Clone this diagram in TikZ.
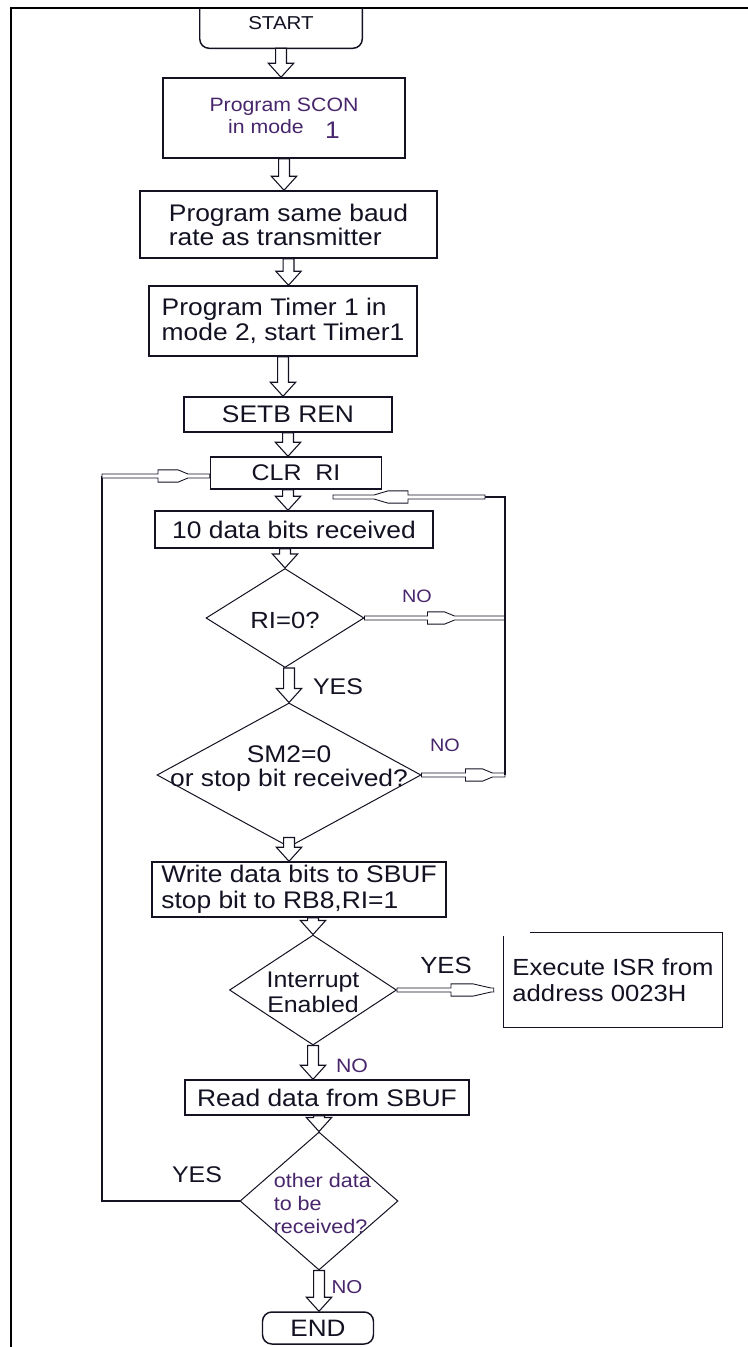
\documentclass[tikz,border=0pt]{standalone}
\usepackage{fontspec}
\setmainfont{Liberation Sans}[FakeStretch=1.1]
\usetikzlibrary{calc,shapes.geometric}

\definecolor{ink}{RGB}{18,18,34}
\definecolor{plum}{RGB}{72,38,108}

% font size / baseline skip in pt
\newcommand\fs[2]{\fontsize{#1pt}{#2pt}\selectfont}
% text block pinned at a node centre: #1 raise of the last baseline, #2 column type, #3 lines
\newcommand\pinned[3]{\makebox[0pt]{\smash{\raisebox{#1}{\begin{tabular}[b]{@{}#2@{}}#3\end{tabular}}}}}

% hollow block arrow (shaft + triangular head at the end)
\def\bs{4.1pt}\def\bh{9.5pt}\def\bl{10.5pt}
\newcommand\blockarrow[2]{%
  \draw[blockline] let \p1=(#1), \p2=(#2), \n1={atan2(\y2-\y1,\x2-\x1)} in
    ($(\p1)+(\n1+90:\bs)$)
    -- ($(\p2)+(\n1+180:\bl)+(\n1+90:\bs)$)
    -- ($(\p2)+(\n1+180:\bl)+(\n1+90:\bh)$)
    -- (\p2)
    -- ($(\p2)+(\n1+180:\bl)+(\n1-90:\bh)$)
    -- ($(\p2)+(\n1+180:\bl)+(\n1-90:\bs)$)
    -- ($(\p1)+(\n1-90:\bs)$) -- cycle;}

% thin double-line arrow with its head part way along
% #3 head offset, #4 flat part, #5 taper (all in px)
\def\ms{1.5pt}\def\mh{4.6pt}
\newcommand\midarrow[5]{%
  \draw[midline] let \p1=(#1), \p2=(#2), \n1={atan2(\y2-\y1,\x2-\x1)} in
    ($(\p1)+(\n1+90:\ms)$)
    -- ($(\p1)+(\n1:#3*0.75pt)+(\n1+90:\ms)$)
    -- ($(\p1)+(\n1:#3*0.75pt)+(\n1+90:\mh)$)
    -- ($(\p1)+(\n1:#3*0.75pt+#4*0.75pt)+(\n1+90:\mh)$)
    -- ($(\p1)+(\n1:#3*0.75pt+#4*0.75pt+#5*0.75pt)+(\n1+90:\ms)$)
    -- ($(\p2)+(\n1+90:\ms)$)
    -- ($(\p2)+(\n1-90:\ms)$)
    -- ($(\p1)+(\n1:#3*0.75pt+#4*0.75pt+#5*0.75pt)+(\n1-90:\ms)$)
    -- ($(\p1)+(\n1:#3*0.75pt+#4*0.75pt)+(\n1-90:\mh)$)
    -- ($(\p1)+(\n1:#3*0.75pt)+(\n1-90:\mh)$)
    -- ($(\p1)+(\n1:#3*0.75pt)+(\n1-90:\ms)$)
    -- ($(\p1)+(\n1-90:\ms)$) -- cycle;}

\begin{document}
\begin{tikzpicture}[x=0.75pt,y=-0.75pt,
  sz/.style 2 args={minimum width=#1*0.75pt, minimum height=#2*0.75pt},
  box/.style={draw=ink, line width=1.1pt, inner sep=0pt, align=center, text=ink},
  dia/.style={draw=ink, line width=0.75pt, diamond, inner sep=0pt, text=ink},
  lbl/.style={inner sep=0pt, text=plum},
  wire/.style={draw=ink, line width=0.9pt},
  blockline/.style={draw=ink, line width=0.8pt, fill=white, line join=miter},
  midline/.style={draw=ink, line width=0.65pt, fill=white, line join=miter}]

\useasboundingbox (0,0) rectangle (748,1347);
\fill[white] (0,0) rectangle (748,1347);

% page frame
\draw[black, line width=1.6pt] (748,8) -- (11,8) -- (11,1347);

% ---- process boxes ----
\node[inner sep=0pt, sz={162}{40}, text=ink, font=\fs{14}{16}, text depth=7pt] (start) at (281,28) {START};
\draw[ink, line width=1.1pt, rounded corners=7pt]
  (start.north west) -- (start.south west) -- (start.south east) -- (start.north east);

\node[box, sz={242}{80}, text=plum, font=\fs{14.5}{16.5}] (scon) at (284,118)
  {Program SCON\\in mode\hspace{16pt}\raisebox{-3.5pt}{\fs{18}{18}1}};
\node[box, sz={297}{67}, align=left, font=\fs{18}{18}] (baud) at (288.5,224.5)
  {Program same baud\\rate as transmitter};
\node[box, sz={268}{70}, align=left, font=\fs{18}{18.75}] (timer) at (283,321)
  {Program Timer 1 in\\mode 2, start Timer1};
\node[box, sz={208}{35}, font=\fs{18}{18}] (setb) at (288,414.5) {SETB REN};
\node[box, sz={171}{32}, font=\fs{17}{17}] (clr) at (296,473) {CLR\ \ RI};
\node[box, sz={278}{37}, font=\fs{18}{18}] (data10) at (294,529.5) {10 data bits received};

\node[dia, sz={158}{99}, font=\fs{17.5}{18}] (ri) at (285,618) {\pinned{-7.5pt}{c}{RI=0?}};
\node[dia, sz={264}{144}, font=\fs{18}{16.5}] (sm2) at (289,775)
  {\pinned{-8.25pt}{c}{SM2=0\\or stop bit received?}};

\node[box, sz={294}{55}, align=left, font=\fs{18}{19.5}] (write) at (299,889.5)
  {Write data bits to SBUF\\stop bit to RB8,RI=1};

\node[dia, sz={167}{110}, font=\fs{17}{18.75}] (intr) at (313,990)
  {\pinned{-16.5pt}{c}{Interrupt\\Enabled}};

\node[inner sep=0pt, sz={218}{94}, align=left, text=ink, font=\fs{17.5}{19.5}] (isr) at (613,980)
  {Execute ISR from\\address 0023H};
\draw[ink, line width=1.1pt]
  ([xshift=19.5pt]isr.north west) -- (isr.north east) -- (isr.south east)
  -- (isr.south west) -- ([yshift=-2.5pt]isr.north west);

\node[box, sz={284}{35}, font=\fs{18}{18}] (read) at (327,1097.5) {Read data from SBUF};

\node[dia, sz={158}{138}, text=plum, font=\fs{14.7}{16.9}] (other) at (319,1201)
  {\hspace{5pt}\pinned{-24pt}{l}{other data\\to be\\received?}};

\node[box, rounded corners=7pt, sz={111}{32}, font=\fs{17.8}{18}] (end) at (318,1328) {END};

% ---- branch labels ----
\node[lbl, text=ink, font=\fs{17}{17}] (yesA) at (338,687) {YES};
\node[lbl, font=\fs{13.5}{14}] (noA) at (417,596) {NO};
\node[lbl, font=\fs{13.5}{14}] (noB) at (445,745) {NO};
\node[lbl, text=ink, font=\fs{17.5}{18}] (yesB) at (446,965) {YES};
\node[lbl, font=\fs{14.5}{15}] (noC) at (352,1066) {NO};
\node[lbl, text=ink, font=\fs{17}{17}] (yesC) at (197,1175) {YES};
\node[lbl, font=\fs{14}{14}] (noD) at (347,1287) {NO};

% ---- loop-back points ----
\coordinate (loopR) at (505,497);
\coordinate (loopRin) at (485,497);
\coordinate (loopEnd) at (333,497);
\coordinate (loopL) at (102,476);
\coordinate (clrIn) at ([yshift=-2.25pt]clr.west);
\coordinate (riOut) at (ri.east -| loopR);
\coordinate (smOut) at (sm2.east -| loopR);
\coordinate (yesEnd) at ($(intr.east -| isr.west)+(-10,0)$);
\coordinate (clrOut) at ([xshift=-6pt]clr.south);

% ---- main flow ----
\blockarrow{start.south}{start.south |- scon.north}
\blockarrow{scon.south}{scon.south |- baud.north}
\blockarrow{baud.south}{baud.south |- timer.north}
\blockarrow{timer.south}{timer.south |- setb.north}
\blockarrow{setb.south}{setb.south |- clr.north}
\blockarrow{clrOut}{clrOut |- data10.north}
\blockarrow{ri.north |- data10.south}{ri.north}
\blockarrow{sm2.north |- ri.south}{sm2.north}
\blockarrow{[yshift=7.5pt]sm2.south}{sm2.south |- write.north}
\blockarrow{intr.north |- write.south}{intr.north}
\blockarrow{intr.south}{intr.south |- read.north}
\blockarrow{other.north |- read.south}{other.north}
\blockarrow{other.south}{other.south |- end.north}

% ---- side branches ----
\midarrow{ri.east}{riOut}{63}{17}{10}
\midarrow{sm2.east}{smOut}{44}{17}{10}
\draw[wire] (smOut) -- (loopR) -- (loopRin);
\midarrow{loopRin}{loopEnd}{77}{20}{14}
\midarrow{intr.east}{yesEnd}{54}{22}{18}

% ---- repeat loop ----
\draw[wire] (other.west) -- (other.west -| loopL) -- (loopL);
\midarrow{loopL}{clrIn}{56}{20}{10}

\end{tikzpicture}
\end{document}
